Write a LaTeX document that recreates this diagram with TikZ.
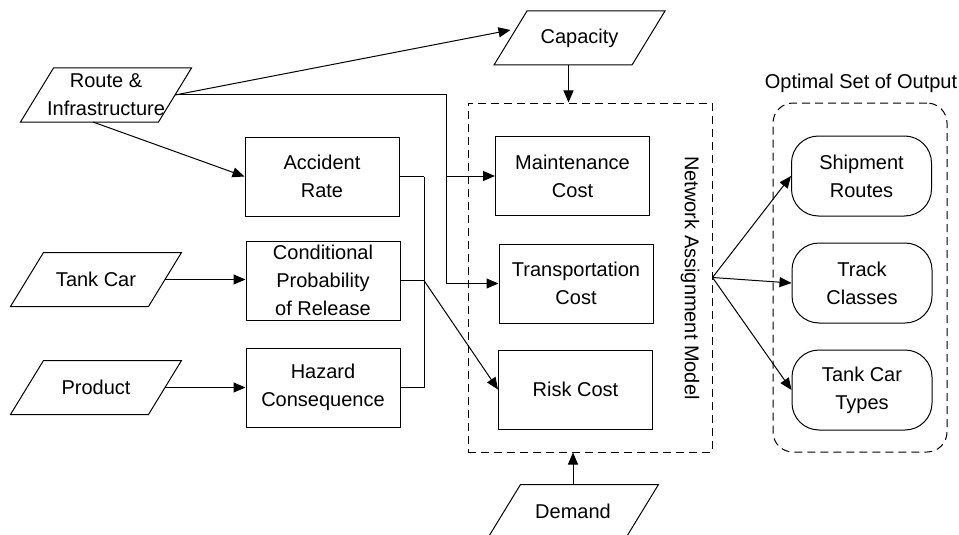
\documentclass[tikz,border=0pt]{standalone}
\usepackage{fontspec}
\setmainfont{Liberation Sans}
\usetikzlibrary{arrows.meta}

\begin{document}
\begin{tikzpicture}[x=1pt,y=-1pt,line width=1pt,
                    font=\fontsize{20}{28}\selectfont,
                    >={Triangle[length=12pt,width=10pt]},
                    box node/.style={rectangle,draw,minimum width=154pt,minimum height=79pt,align=center,inner sep=1pt},
                    data node/.style={rectangle,minimum width=137pt,minimum height=53pt,align=center,inner sep=0pt,
                                      append after command={\pgfextra{\draw ([xshift=-16.5pt]\tikzlastnode.south west)
                                        -- ([xshift=-16.5pt]\tikzlastnode.south east) -- ([xshift=16.5pt]\tikzlastnode.north east)
                                        -- ([xshift=16.5pt]\tikzlastnode.north west) -- cycle;}}},
                    out node/.style={rectangle,rounded corners=27pt,draw,minimum width=140pt,minimum height=80pt,align=center},
                    group box/.style={draw,dash pattern=on 8pt off 5pt}]

          \useasboundingbox (0,0) rectangle (959,535);

          % Inputs
          \node[data node] (route) at (106,95) {Route \&\\Infrastructure};
          \node[data node] (capacity) at (579.5,38) {Capacity};
          \node[data node] (tank) at (96,279.5) {Tank Car};
          \node[data node] (product) at (96,387.5) {Product};
          \node[data node] (demand) at (573,511.5) {Demand};

          \node[box node] (accident) at (322,176.5) {Accident\\Rate};
          \node[box node] (cond) at (323,280.5) {Conditional\\Probability\\of Release};
          \node[box node] (hazard) at (323,387.5) {Hazard\\Consequence};

          % Network assignment model
          \node[group box,minimum width=244pt,minimum height=349pt] (nam) at (590,277.5) {};
          \node[rotate=-90] (namlabel) at (690,278) {Network Assignment Model};
          \node[box node] (maint) at (572.5,176) {Maintenance\\Cost};
          \node[box node] (trans) at (576,283.5) {Transportation\\Cost};
          \node[box node] (risk) at (575.5,389.5) {Risk Cost};

          % Outputs
          \node[group box,rounded corners=20pt,minimum width=174pt,minimum height=349pt] (outbox) at (860,277.5) {};
          \node (outlabel) at (861,83) {Optimal Set of Output};
          \node[out node] (ship) at (861.5,176) {Shipment\\Routes};
          \node[out node] (track) at (862,283) {Track\\Classes};
          \node[out node] (types) at (862,390) {Tank Car\\Types};

          \coordinate (bus) at (446,200);
          \coordinate (riskbus) at (424,280);

          % Edges
          \draw[->] (route.east) -- ([yshift=8pt]capacity.west);
          \draw[->] ([xshift=-13pt]route.south) -- (accident.west);
          \draw[->] (route.east) -| (bus |- trans.west) -- (trans.west);
          \draw[->] (bus |- maint.west) -- (maint.west);
          \draw[->] (tank.east) -- (tank.east -| cond.west);
          \draw[->] (product.east) -- (product.east -| hazard.west);

          \foreach \source in {accident,cond,hazard}
            \draw (\source.east) -- (riskbus |- \source.east);
          \draw (riskbus |- accident.east) -- (riskbus |- hazard.east);
          \draw[->] (riskbus |- cond.east) -- (risk.west);

          \draw[->] ([xshift=-11pt]capacity.south) -- ([xshift=-11pt]capacity.south |- nam.north);
          \draw[->] (demand.north) -- (demand.north |- nam.south);

          \foreach \target in {ship,track,types}
            \draw[->] (nam.east) -- (\target.west);
        \end{tikzpicture}
\end{document}
